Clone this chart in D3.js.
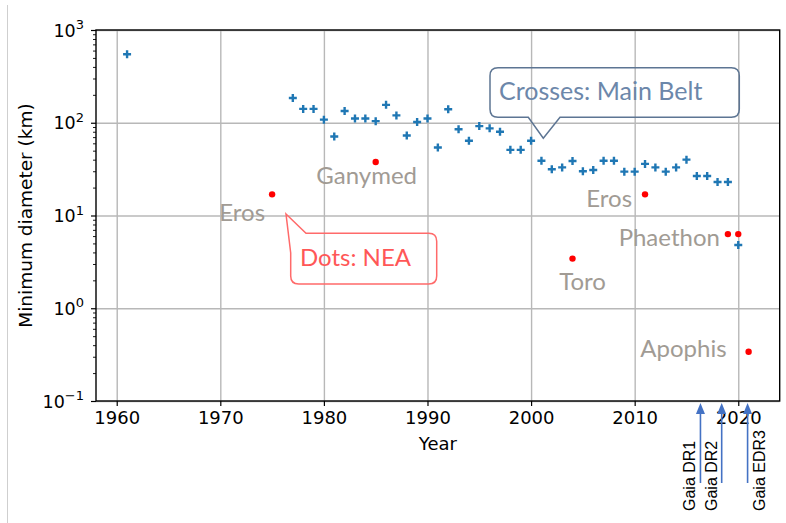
<!DOCTYPE html>
<html>
<head>
<meta charset="utf-8">
<script src="https://cdn.jsdelivr.net/npm/d3@7"></script>
<style>
  body { margin: 0; background: #fff; }
  .axis text { font-family: "DejaVu Sans", sans-serif; font-size: 18px; fill: #000; }
  .note { font-family: Lato, "Open Sans", sans-serif; }
</style>
</head>
<body>
<div id="chart"></div>
<script>
// main belt asteroids (crosses)
const mbYears = [1961, 1977, 1978, 1979, 1980, 1981, 1982, 1983, 1984, 1985, 1986, 1987, 1988, 1989,
    1990, 1991, 1992, 1993, 1994, 1995, 1996, 1997, 1998, 1999, 2000, 2001, 2002, 2003, 2004, 2005,
    2006, 2007, 2008, 2009, 2010, 2011, 2012, 2013, 2014, 2015, 2016, 2017, 2018, 2019, 2020]
const mbDiam = [548, 185, 141, 141, 108, 71, 134, 111, 111, 104, 156, 120, 73, 102,
    111, 54, 140, 85, 64, 92, 87, 80, 51, 51, 64, 39, 31.5, 33, 38.7, 30,
    31, 39, 39, 29.7, 29.7, 36, 33, 29.7, 33, 40, 26.7, 26.7, 23, 23, 4.8]

// near earth asteroids (dots)
const neaYears = [1975, 1985, 2004, 2011, 2019, 2020, 2021]
const neaDiam = [16.9, 37.8, 3.43, 16.9, 6.3, 6.3, 0.34]
const neaNames = ["Eros", "Ganymed", "Toro", "Eros", "Phaethon", "", "Apophis"]

// Gaia data releases
const gaiaDates = [2016.35, 2018.4, 2020.9]
const gaiaNames = ["Gaia DR1", "Gaia DR2", "Gaia EDR3"]

const xTicks = [1960, 1970, 1980, 1990, 2000, 2010, 2020]
const yTicks = [0.1, 1, 10, 100, 1000]
const yExp = ["\u22121", "0", "1", "2", "3"]

const width = 786, height = 523
const margin = {left: 96, right: 6.3, top: 30, bottom: 122}

const svg = d3.select('#chart').append('svg')
    .attr('width', width)
    .attr('height', height)

// faint border line of the original picture
svg.append('line')
    .attr('x1', 7.5).attr('x2', 7.5).attr('y1', 5).attr('y2', height)
    .attr('stroke', '#cfcfcf').attr('stroke-width', 1)

const x = d3.scaleLinear()
    .domain([1958, 2024])
    .range([margin.left, width - margin.right])
const y = d3.scaleLog()
    .domain([0.1, 1000])
    .range([height - margin.bottom, margin.top])

const plotW = width - margin.right - margin.left
const plotH = height - margin.bottom - margin.top

// grid
svg.append('g')
    .attr('transform', `translate(0,${height - margin.bottom})`)
    .call(d3.axisBottom(x).tickValues(xTicks).tickSize(-plotH).tickFormat(''))
    .call(g => g.select('.domain').remove())
    .call(g => g.selectAll('line').attr('stroke', '#b8b8b8').attr('stroke-width', 1.4))
svg.append('g')
    .attr('transform', `translate(${margin.left},0)`)
    .call(d3.axisLeft(y).tickValues(yTicks).tickSize(-plotW).tickFormat(''))
    .call(g => g.select('.domain').remove())
    .call(g => g.selectAll('line').attr('stroke', '#b8b8b8').attr('stroke-width', 1.4))

// axes
const xAxis = svg.append('g')
    .attr('class', 'axis')
    .attr('transform', `translate(0,${height - margin.bottom})`)
    .call(d3.axisBottom(x).tickValues(xTicks).tickSize(5).tickPadding(5).tickFormat(d3.format('d')))
xAxis.select('.domain').remove()
xAxis.selectAll('line').attr('stroke', '#000').attr('stroke-width', 1.2)

const minor = y.ticks().filter(v => yTicks.indexOf(v) < 0)
svg.append('g')
    .attr('transform', `translate(${margin.left},0)`)
    .call(d3.axisLeft(y).tickValues(minor).tickSize(3).tickFormat(''))
    .call(g => g.select('.domain').remove())
    .call(g => g.selectAll('line').attr('stroke', '#000').attr('stroke-width', 0.9))

const yAxis = svg.append('g')
    .attr('class', 'axis')
    .attr('transform', `translate(${margin.left},0)`)
    .call(d3.axisLeft(y).tickValues(yTicks).tickSize(5).tickFormat(''))
yAxis.select('.domain').remove()
yAxis.selectAll('line').attr('stroke', '#000').attr('stroke-width', 1.2)

const yLab = yAxis.selectAll('.ylab')
    .data(yTicks).enter()
    .append('text')
    .attr('class', 'ylab')
    .attr('x', -12)
    .attr('y', d => y(d) + 6.5)
    .attr('text-anchor', 'end')
    .style('font-size', '17.5px')
yLab.append('tspan').text('10')
yLab.append('tspan')
    .attr('dy', -7.5)
    .attr('font-size', '13px')
    .text((d, i) => yExp[i])

// frame
svg.append('rect')
    .attr('x', margin.left).attr('y', margin.top)
    .attr('width', plotW).attr('height', plotH)
    .attr('fill', 'none').attr('stroke', '#000').attr('stroke-width', 1.4)

svg.append('text')
    .attr('class', 'axis')
    .attr('x', margin.left + plotW / 2)
    .attr('y', 450)
    .attr('text-anchor', 'middle')
    .style('font-family', 'DejaVu Sans')
    .style('font-size', '18px')
    .text('Year')

svg.append('text')
    .attr('transform', `translate(32,${margin.top + plotH / 2}) rotate(-90)`)
    .attr('text-anchor', 'middle')
    .style('font-family', 'DejaVu Sans')
    .style('font-size', '18.5px')
    .text('Minimum diameter (km)')

// crosses
svg.selectAll('.mb')
    .data(mbYears).enter()
    .append('path')
    .attr('class', 'mb')
    .attr('transform', (d, i) => `translate(${x(d)},${y(mbDiam[i])})`)
    .attr('d', 'M-4,0H4M0,-4V4')
    .attr('stroke', '#1f77b4')
    .attr('stroke-width', 2.4)

// dots
svg.selectAll('.nea')
    .data(neaYears).enter()
    .append('circle')
    .attr('class', 'nea')
    .attr('cx', d => x(d))
    .attr('cy', (d, i) => y(neaDiam[i]))
    .attr('r', 3.2)
    .attr('fill', '#ff0000')

// labels for the NEAs, offsets in px from the dot
const labelOffset = {
    0: {dx: -7, dy: 27, anchor: 'end'},
    1: {dx: -9, dy: 22, anchor: 'middle'},
    2: {dx: 10, dy: 31, anchor: 'middle'},
    3: {dx: -13, dy: 13, anchor: 'end'},
    4: {dx: -8, dy: 12, anchor: 'end'},
    6: {dx: -22, dy: 5, anchor: 'end'}
}
neaNames.forEach((name, i) => {
    if (!name) return
    const o = labelOffset[i]
    svg.append('text')
        .attr('class', 'note')
        .attr('x', x(neaYears[i]) + o.dx)
        .attr('y', y(neaDiam[i]) + o.dy)
        .attr('text-anchor', o.anchor)
        .style('font-size', '24px')
        .style('fill', '#a19b94')
        .text(name)
})

// callout: main belt
svg.append('path')
    .attr('d', 'M498,67.7H731.3Q739.3,67.7 739.3,75.7V109.3Q739.3,117.3 731.3,117.3H560L543.3,138.3L528.3,117.3H498Q490,117.3 490,109.3V75.7Q490,67.7 498,67.7Z')
    .attr('fill', 'none')
    .attr('stroke', '#5d7593')
    .attr('stroke-width', 1.5)
svg.append('text')
    .attr('class', 'note')
    .attr('x', 499).attr('y', 100)
    .style('font-size', '25px')
    .style('fill', '#6c87aa')
    .text('Crosses: Main Belt')

// callout: NEA
svg.append('path')
    .attr('d', 'M286,214L306,233.3H428.7Q436.7,233.3 436.7,241.3V276Q436.7,284 428.7,284H298.7Q290.7,284 290.7,276V253Z')
    .attr('fill', 'none')
    .attr('stroke', '#ff6a6a')
    .attr('stroke-width', 1.5)
svg.append('text')
    .attr('class', 'note')
    .attr('x', 300).attr('y', 266)
    .style('font-size', '24px')
    .style('fill', '#ff5757')
    .text('Dots: NEA')

// Gaia arrows
const gaiaSide = [-1, -1, 1]
gaiaDates.forEach((d, i) => {
    const gx = x(d)
    svg.append('line')
        .attr('x1', gx).attr('x2', gx)
        .attr('y1', 412).attr('y2', 483)
        .attr('stroke', '#4472c4').attr('stroke-width', 1.6)
    svg.append('path')
        .attr('d', `M${gx},403L${gx - 4.5},414L${gx + 4.5},414Z`)
        .attr('fill', '#4472c4')
    const tx = gaiaSide[i] < 0 ? gx - 5 : gx + 17
    svg.append('text')
        .attr('transform', `translate(${tx},511) rotate(-90)`)
        .style('font-family', '"Liberation Sans", Arial, sans-serif')
        .style('font-size', '16px')
        .style('fill', '#000')
        .text(gaiaNames[i])
})
</script>
</body>
</html>
